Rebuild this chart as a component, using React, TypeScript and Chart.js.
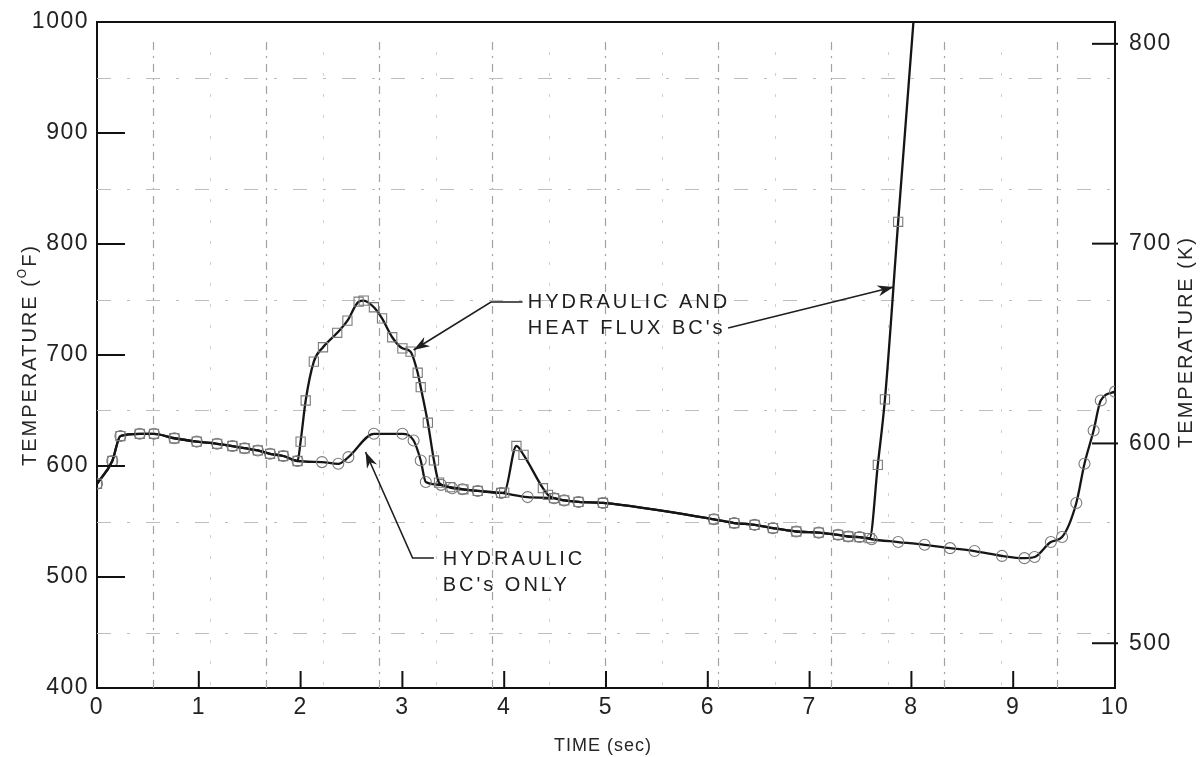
import React, { useEffect, useRef } from "react";
import { Chart, registerables } from "chart.js";

Chart.register(...registerables);

// ---- axis ticks ----
const xTicks = [0, 1, 2, 3, 4, 5, 6, 7, 8, 9, 10];
const yTicksF = [400, 500, 600, 700, 800, 900, 1000];
const yTicksK = [500, 600, 700, 800];

// graph-paper grid (time in s, temperature in °F)
const gridXMajor = [0.55, 1.66, 2.77, 3.88, 4.99, 6.1, 7.21, 8.32, 9.43];
const gridXMinor = [1.11, 2.22, 3.33, 4.44, 5.55, 6.66, 7.77, 8.88];
const gridYMajor = [450, 550, 650, 750, 850, 950];

// ---- series: HYDRAULIC BC's ONLY ----
const timeHydraulic = [
  0, 0.15, 0.23, 0.42, 0.56, 0.76, 0.98, 1.18, 1.33, 1.45, 1.58, 1.7, 1.83, 1.97,
  2.21, 2.37, 2.47, 2.72, 3.0, 3.11, 3.18, 3.23, 3.38, 3.49, 3.59, 3.74, 3.97,
  4.23, 4.49, 4.59, 4.73, 4.97, 6.06, 6.26, 6.46, 6.64, 6.87, 7.09, 7.28, 7.38,
  7.49, 7.61, 7.87, 8.13, 8.38, 8.62, 8.89, 9.11, 9.21, 9.37, 9.48, 9.62, 9.7,
  9.79, 9.86, 10.0,
];
const tempHydraulic = [
  584, 604.5, 627, 629, 629, 625, 622, 620, 618, 616, 614, 611, 609, 604.5,
  603.5, 602, 608, 629, 629, 623, 605, 585.6, 583, 580, 579, 577.5, 575.7,
  572, 571, 569, 567.6, 566.7, 552, 548.6, 547, 544, 541, 540, 538, 536.5,
  536, 534, 531.5, 529, 526, 523.4, 519, 517, 518, 531.5, 536, 566.7, 602,
  632, 659, 667,
];

// ---- series: HYDRAULIC AND HEAT FLUX BC's ----
const timeHeatFlux = [
  0, 0.15, 0.23, 0.42, 0.56, 0.76, 0.98, 1.18, 1.33, 1.45, 1.58, 1.7, 1.83, 1.97,
  2.0, 2.05, 2.13, 2.22, 2.36, 2.46, 2.57, 2.62, 2.72, 2.8, 2.9, 3.0, 3.08, 3.15,
  3.18, 3.25, 3.31, 3.36, 3.47, 3.6, 3.74, 3.97, 4.0, 4.12, 4.19, 4.38, 4.43,
  4.49, 4.59, 4.73, 4.97, 6.06, 6.26, 6.46, 6.64, 6.87, 7.09, 7.28, 7.38, 7.49,
  7.59, 7.67, 7.74, 7.87, 8.02,
];
const tempHeatFlux = [
  584, 604.5, 627, 629, 629, 625, 622, 620, 618, 616, 614, 611, 609, 604.5,
  622, 659, 694, 707, 720, 731, 748, 749, 743, 733, 716, 706, 703, 684,
  671, 639, 605, 585, 581, 579, 577.5, 575.7, 576, 618, 610, 580, 574,
  571, 569, 567.6, 566.7, 552, 548.6, 547, 544, 541, 540, 538, 536.5, 536,
  535, 601, 660, 820, 1000,
];

// ---- labels ----
const labelHeatFlux = ["HYDRAULIC AND", "HEAT FLUX BC's"];
const labelHydraulic = ["HYDRAULIC", "BC's ONLY"];

const toK = (f: number) => ((f - 32) * 5) / 9 + 273.15;

const FONT = "'Liberation Sans', Arial, sans-serif";

function drawArrow(ctx: CanvasRenderingContext2D, pts: number[][]) {
  ctx.save();
  ctx.strokeStyle = "#1e1e1e";
  ctx.fillStyle = "#1e1e1e";
  ctx.lineWidth = 1.6;
  ctx.setLineDash([]);
  ctx.beginPath();
  ctx.moveTo(pts[0][0], pts[0][1]);
  for (let i = 1; i < pts.length; i++) ctx.lineTo(pts[i][0], pts[i][1]);
  ctx.stroke();
  const [tx, ty] = pts[pts.length - 1];
  const [px, py] = pts[pts.length - 2];
  const ang = Math.atan2(ty - py, tx - px);
  const L = 16;
  const W = 5.5;
  ctx.beginPath();
  ctx.moveTo(tx, ty);
  ctx.lineTo(tx - L * Math.cos(ang) + W * Math.sin(ang), ty - L * Math.sin(ang) - W * Math.cos(ang));
  ctx.lineTo(tx - L * 0.7 * Math.cos(ang), ty - L * 0.7 * Math.sin(ang));
  ctx.lineTo(tx - L * Math.cos(ang) - W * Math.sin(ang), ty - L * Math.sin(ang) + W * Math.cos(ang));
  ctx.closePath();
  ctx.fill();
  ctx.restore();
}

type Part = { text: string; size: number; dy: number };

function drawParts(
  ctx: CanvasRenderingContext2D,
  parts: Part[],
  cx: number,
  cy: number,
  rotate: boolean,
  spacing: number
) {
  ctx.save();
  ctx.fillStyle = "#262626";
  (ctx as any).letterSpacing = spacing + "px";
  ctx.textBaseline = "middle";
  ctx.textAlign = "left";
  let total = 0;
  const widths = parts.map((p) => {
    ctx.font = `${p.size}px ${FONT}`;
    const w = ctx.measureText(p.text).width;
    total += w;
    return w;
  });
  ctx.translate(cx, cy);
  if (rotate) ctx.rotate(-Math.PI / 2);
  let x = -total / 2;
  parts.forEach((p, i) => {
    ctx.font = `${p.size}px ${FONT}`;
    ctx.fillText(p.text, x, p.dy);
    x += widths[i];
  });
  ctx.restore();
}

const decorPlugin = {
  id: "decor",
  beforeDraw(chart: any) {
    (chart.ctx as any).letterSpacing = "1.5px";
  },
  beforeDatasetsDraw(chart: any) {
    const { ctx, chartArea: a, scales } = chart;
    const sx = scales.x;
    const sy = scales.y;
    ctx.save();
    ctx.beginPath();
    ctx.rect(a.left, a.top, a.right - a.left, a.bottom - a.top);
    ctx.clip();
    // minor verticals
    ctx.strokeStyle = "#cfcfcf";
    ctx.lineWidth = 1;
    ctx.setLineDash([3, 18]);
    gridXMinor.forEach((v) => {
      const x = Math.round(sx.getPixelForValue(v)) + 0.5;
      ctx.beginPath();
      ctx.moveTo(x, a.top + 30);
      ctx.lineTo(x, a.bottom);
      ctx.stroke();
    });
    // major verticals
    ctx.strokeStyle = "#a2a2a2";
    ctx.lineWidth = 1.2;
    ctx.setLineDash([8, 6, 2, 6]);
    gridXMajor.forEach((v) => {
      const x = Math.round(sx.getPixelForValue(v)) + 0.5;
      ctx.beginPath();
      ctx.moveTo(x, a.top + 20);
      ctx.lineTo(x, a.bottom);
      ctx.stroke();
    });
    // horizontals
    ctx.strokeStyle = "#bdbdbd";
    ctx.lineWidth = 1;
    ctx.setLineDash([14, 16, 3, 16]);
    gridYMajor.forEach((v) => {
      const y = Math.round(sy.getPixelForValue(v)) + 0.5;
      ctx.beginPath();
      ctx.moveTo(a.left, y);
      ctx.lineTo(a.right, y);
      ctx.stroke();
    });
    ctx.restore();
  },
  afterDraw(chart: any) {
    const { ctx, chartArea: a, scales } = chart;
    const sx = scales.x;
    const sy = scales.y;
    const sk = scales.y2;
    ctx.save();
    ctx.strokeStyle = "#111";
    ctx.lineWidth = 2;
    ctx.setLineDash([]);
    // top border
    ctx.beginPath();
    ctx.moveTo(a.left, a.top);
    ctx.lineTo(a.right, a.top);
    ctx.stroke();
    // left inward ticks
    yTicksF.slice(1, -1).forEach((v) => {
      const y = sy.getPixelForValue(v);
      ctx.beginPath();
      ctx.moveTo(a.left, y);
      ctx.lineTo(a.left + 28, y);
      ctx.stroke();
    });
    // bottom inward ticks
    xTicks.slice(1, -1).forEach((v) => {
      const x = sx.getPixelForValue(v);
      ctx.beginPath();
      ctx.moveTo(x, a.bottom);
      ctx.lineTo(x, a.bottom - 17);
      ctx.stroke();
    });
    // right ticks (K)
    yTicksK.forEach((v) => {
      const y = sk.getPixelForValue(v);
      ctx.beginPath();
      ctx.moveTo(a.right - 23, y);
      ctx.lineTo(a.right + 3, y);
      ctx.stroke();
    });
    ctx.restore();

    // annotations
    const P = (t: number, f: number) => [sx.getPixelForValue(t), sy.getPixelForValue(f)];
    drawArrow(ctx, [P(4.18, 747.7), P(3.87, 747.7), P(3.11, 704.5)]);
    drawArrow(ctx, [P(6.2, 724.3), P(7.825, 761.3)]);
    drawArrow(ctx, [P(3.31, 517.1), P(3.1, 517.1), P(2.638, 612.6)]);

    ctx.save();
    ctx.fillStyle = "#202020";
    ctx.font = `20px ${FONT}`;
    (ctx as any).letterSpacing = "3px";
    ctx.textBaseline = "middle";
    ctx.textAlign = "left";
    const [hx, hy1] = P(4.232, 747.7);
    const [, hy2] = P(4.232, 724.3);
    ctx.fillText(labelHeatFlux[0], hx, hy1);
    ctx.fillText(labelHeatFlux[1], hx, hy2);
    const [lx, ly1] = P(3.396, 516.2);
    const [, ly2] = P(3.396, 492.8);
    ctx.fillText(labelHydraulic[0], lx, ly1);
    ctx.fillText(labelHydraulic[1], lx, ly2);
    ctx.restore();

    // axis titles
    drawParts(
      ctx,
      [
        { text: "TEMPERATURE (", size: 20, dy: 0 },
        { text: "O", size: 12, dy: -7 },
        { text: "F)", size: 20, dy: 0 },
      ],
      30,
      355,
      true,
      2
    );
    drawParts(ctx, [{ text: "TEMPERATURE (K)", size: 20, dy: 0 }], 1186, 342, true, 2);
    drawParts(ctx, [{ text: "TIME (sec)", size: 18, dy: 0 }], 603, 746, false, 1);
  },
};

export default function App() {
  const ref = useRef<HTMLCanvasElement | null>(null);

  useEffect(() => {
    document.body.style.margin = "0";
    const canvas = ref.current;
    if (!canvas) return;

    const tickFont = { family: FONT, size: 23 };
    const plain = (v: any) => String(v);
    const fitV = (w: number) => (s: any) => {
      s.width = w;
      s.paddingTop = 0;
      s.paddingBottom = 0;
    };
    const chart = new Chart(canvas, {
      type: "line",
      data: {
        datasets: [
          {
            label: "HYDRAULIC AND HEAT FLUX BC's",
            data: timeHeatFlux.map((t, i) => ({ x: t, y: tempHeatFlux[i] })),
            borderColor: "#151515",
            borderWidth: 2.3,
            pointStyle: "rect",
            pointRadius: (c: any) => (c.raw && c.raw.y >= 1000 ? 0 : 6.5),
            pointBorderColor: "#7a7a7a",
            pointBorderWidth: 1.1,
            pointBackgroundColor: "rgba(255,255,255,0)",
            cubicInterpolationMode: "monotone",
            fill: false,
            yAxisID: "y",
          },
          {
            label: "HYDRAULIC BC's ONLY",
            data: timeHydraulic.map((t, i) => ({ x: t, y: tempHydraulic[i] })),
            borderColor: "#151515",
            borderWidth: 2.3,
            pointStyle: "circle",
            pointRadius: 5.5,
            pointBorderColor: "#7a7a7a",
            pointBorderWidth: 1.1,
            pointBackgroundColor: "rgba(255,255,255,0)",
            cubicInterpolationMode: "monotone",
            fill: false,
            yAxisID: "y",
          },
        ],
      },
      options: {
        responsive: false,
        maintainAspectRatio: false,
        animation: false,
        events: [],
        layout: { padding: { top: 22, left: 0, right: 0, bottom: 0 } },
        plugins: { legend: { display: false }, tooltip: { enabled: false } },
        scales: {
          x: {
            type: "linear",
            min: 0,
            max: 10,
            afterBuildTicks: (s: any) => {
              s.ticks = xTicks.map((v) => ({ value: v }));
            },
            afterFit: (s: any) => {
              s.height = 69;
              s.paddingLeft = 0;
              s.paddingRight = 0;
            },
            ticks: { font: tickFont, color: "#222", padding: 6, maxRotation: 0, autoSkip: false, callback: plain },
            grid: { display: true, drawOnChartArea: false, drawTicks: false },
            border: { display: true, color: "#111", width: 2 },
          },
          y: {
            type: "linear",
            position: "left",
            min: 400,
            max: 1000,
            afterBuildTicks: (s: any) => {
              s.ticks = yTicksF.map((v) => ({ value: v }));
            },
            afterFit: fitV(97),
            ticks: { font: tickFont, color: "#222", padding: 8, autoSkip: false, callback: plain },
            grid: { display: true, drawOnChartArea: false, drawTicks: false },
            border: { display: true, color: "#111", width: 2 },
          },
          y2: {
            type: "linear",
            position: "right",
            min: toK(400),
            max: toK(1000),
            afterBuildTicks: (s: any) => {
              s.ticks = yTicksK.map((v) => ({ value: v }));
            },
            afterFit: fitV(86),
            ticks: { font: tickFont, color: "#222", padding: 14, autoSkip: false, callback: plain },
            grid: { display: true, drawOnChartArea: false, drawTicks: false },
            border: { display: true, color: "#111", width: 2 },
          },
        },
      } as any,
      plugins: [decorPlugin],
    });

    return () => chart.destroy();
  }, []);

  return (
    <div style={{ position: "absolute", left: 0, top: 0, width: 1201, height: 757, background: "#fff" }}>
      <canvas ref={ref} width={1201} height={757} style={{ display: "block" }} />
    </div>
  );
}
